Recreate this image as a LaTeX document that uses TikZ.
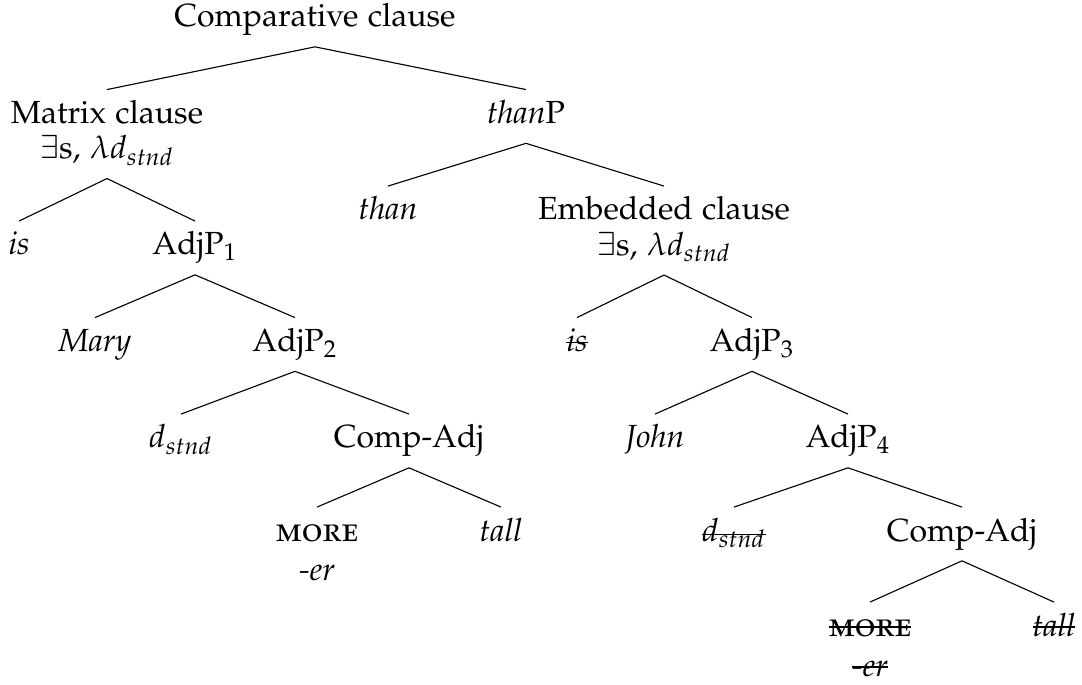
\documentclass[tikz,border=0pt]{standalone}
\usepackage[T1]{fontenc}
\usepackage[sc]{mathpazo}

% struck-out text: a rule drawn across the width of the text box
\newsavebox\strkbox
\newcommand\strk[2][0.55ex]{\leavevmode\sbox\strkbox{#2}%
  \rlap{\rule[#1]{\wd\strkbox}{0.4pt}}\usebox\strkbox}

% comparative morpheme in small capitals
\newcommand\more{{\fontsize{10.6}{11}\selectfont\textsc{more}}}

% every node label is a top-aligned one-column tabular, so all boxes share
% the same strut height/depth and the base anchor is the first baseline
\newcommand\lab[1]{\begin{tabular}[t]{@{}c@{}}#1\end{tabular}}

\tikzset{
  lbl/.style={anchor=base, inner xsep=0pt, inner ysep=2.7pt,
    font=\fontsize{10}{11}\selectfont},
  branch/.style={draw, line width=0.35pt}
}

\begin{document}
\begin{tikzpicture}[x=0.3125pt, y=-0.3125pt]
\path[use as bounding box] (0,0) rectangle (1082,685);

% clause level
\node[lbl] (root)  at (315,27)    {\lab{Comparative clause}};
\node[lbl] (mat)   at (107,123.5) {\lab{Matrix clause\\$\exists$s, $\lambda d_{stnd}$}};
\node[lbl] (thp)   at (526,123.5) {\lab{\textit{than}P}};

% matrix clause subtree
\node[lbl] (is1)   at (19,255)    {\lab{\textit{is}}};
\node[lbl] (ap1)   at (195,255)   {\lab{AdjP$_1$}};
\node[lbl] (mary)  at (95,351.5)  {\lab{\textit{Mary}}};
\node[lbl] (ap2)   at (295,351.5) {\lab{AdjP$_2$}};
\node[lbl] (d1)    at (181,448)   {\lab{$d_{stnd}$}};
\node[lbl] (ca1)   at (409,448)   {\lab{Comp-Adj}};
\node[lbl] (more1) at (317,541)   {\lab{\more\\[1.5pt]\textit{-er}}};
\node[lbl] (tall1) at (501,541)   {\lab{\textit{tall}}};

% than-phrase subtree (deleted material struck out)
\node[lbl] (than)  at (388,220)   {\lab{\textit{than}}};
\node[lbl] (emb)   at (664,220)   {\lab{Embedded clause\\$\exists$s, $\lambda d_{stnd}$}};
\node[lbl] (is2)   at (577,351.5) {\lab{\strk{\textit{is}}}};
\node[lbl] (ap3)   at (752,351.5) {\lab{AdjP$_3$}};
\node[lbl] (john)  at (655,448)   {\lab{\textit{John}}};
\node[lbl] (ap4)   at (848,448)   {\lab{AdjP$_4$}};
\node[lbl] (d2)    at (734,541)   {\lab{\strk[0.4ex]{$d_{stnd}$}}};
\node[lbl] (ca2)   at (962,541)   {\lab{Comp-Adj}};
\node[lbl] (more2) at (870,636)   {\lab{\strk{\more}\\[1.5pt]\strk{\textit{-er}}}};
\node[lbl] (tall2) at (1054,636)  {\lab{\strk{\textit{tall}}}};

% branches
\foreach \p/\c in {root/mat, root/thp,
                   mat/is1, mat/ap1, ap1/mary, ap1/ap2, ap2/d1, ap2/ca1,
                   ca1/more1, ca1/tall1,
                   thp/than, thp/emb, emb/is2, emb/ap3, ap3/john, ap3/ap4,
                   ap4/d2, ap4/ca2, ca2/more2, ca2/tall2}
  \draw[branch] (\p.south) -- (\c.north);
\end{tikzpicture}
\end{document}
